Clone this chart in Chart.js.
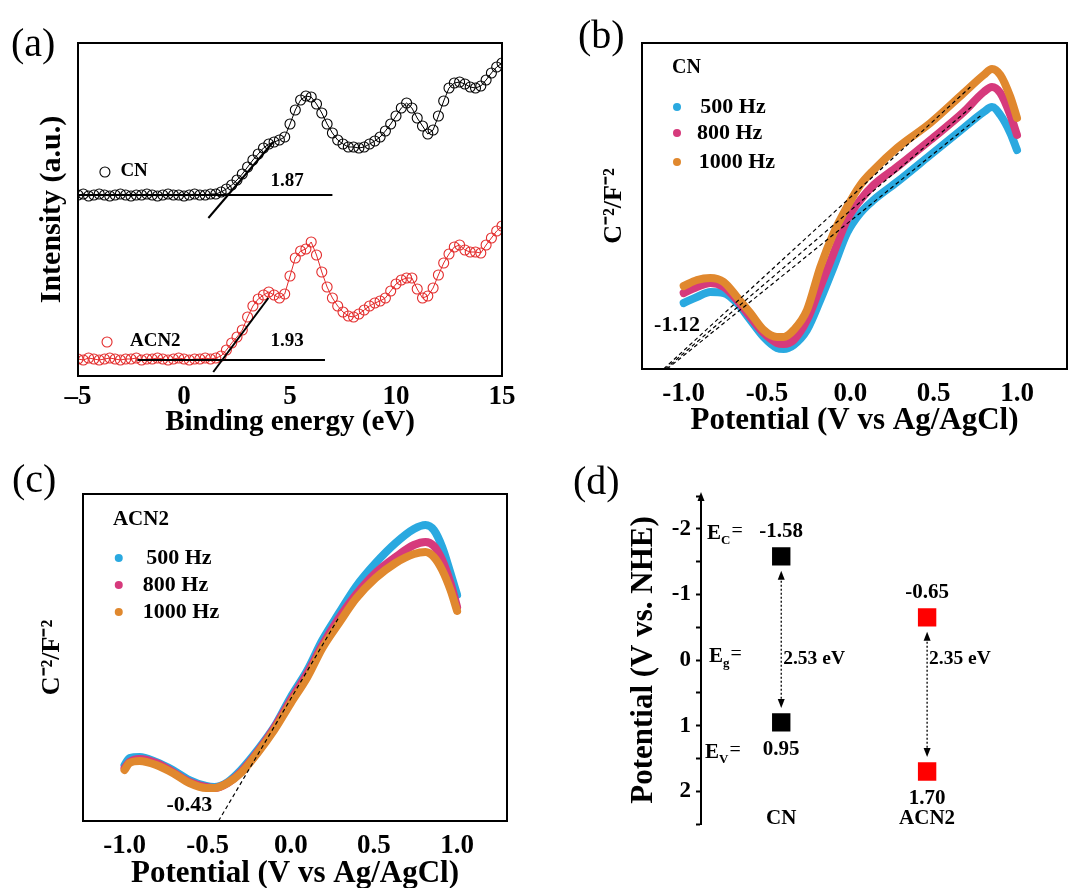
<!DOCTYPE html>
<html>
<head>
<meta charset="utf-8">
<script src="https://cdn.jsdelivr.net/npm/chart.js@4.4.0/dist/chart.umd.min.js"></script>
<style>
  body { margin: 0; background: #fff; }
  #wrap { position: relative; width: 1069px; height: 888px; overflow: hidden; background: #fff; }
  canvas { position: absolute; }
  .tag { position: absolute; font: 40px 'Liberation Serif', 'Times New Roman', serif; line-height: 1; color: #000; }
</style>
</head>
<body>
<div id="wrap">
  <canvas id="panelA" width="530" height="440" style="left:0;top:0"></canvas>
  <canvas id="panelB" width="539" height="440" style="left:530px;top:0"></canvas>
  <canvas id="panelC" width="530" height="448" style="left:0;top:440px"></canvas>
  <canvas id="panelD" width="539" height="448" style="left:530px;top:440px"></canvas>
  <div class="tag" style="left:11px;top:23px">(a)</div>
  <div class="tag" style="left:578px;top:15px">(b)</div>
  <div class="tag" style="left:12px;top:459px">(c)</div>
  <div class="tag" style="left:573px;top:461px">(d)</div>
</div>
<script>
// (a) valence band XPS
const energy = [-5, -4.75, -4.5, -4.25, -4, -3.75, -3.5, -3.25, -3, -2.75, -2.5, -2.25, -2, -1.75, -1.5, -1.25,
  -1, -0.75, -0.5, -0.25, 0, 0.25, 0.5, 0.75, 1, 1.25, 1.5, 1.75, 2, 2.25, 2.5, 2.75, 3, 3.25, 3.5, 3.75,
  4, 4.25, 4.5, 4.75, 5, 5.25, 5.5, 5.75, 6, 6.25, 6.5, 6.75, 7, 7.25, 7.5, 7.75, 8, 8.25, 8.5, 8.75,
  9, 9.25, 9.5, 9.75, 10, 10.25, 10.5, 10.75, 11, 11.25, 11.5, 11.75, 12, 12.25, 12.5, 12.75, 13, 13.25,
  13.5, 13.75, 14, 14.25, 14.5, 14.75, 15];
const cnIntensity = [181, 182, 180, 181, 182, 181, 180, 181, 182, 181, 180, 181, 181, 182, 181, 180,
  181, 182, 181, 181, 180, 181, 182, 181, 181, 182, 182, 184, 187, 191, 196, 202, 209, 216, 222, 228,
  232, 234, 236, 239, 252, 266, 276, 280, 279, 272, 263, 252, 243, 236, 232, 229, 229, 228, 229, 232,
  235, 239, 245, 252, 260, 268, 273, 268, 258, 250, 242, 246, 260, 275, 288, 293, 294, 292,
  289, 288, 290, 296, 303, 309, 313];
const acn2Intensity = [17, 16, 18, 17, 16, 17, 18, 17, 16, 17, 17, 18, 16, 17, 17, 18,
  17, 16, 17, 18, 17, 16, 17, 17, 18, 17, 18, 20, 26, 33, 39, 46, 59, 70, 77, 81,
  84, 81, 78, 82, 100, 118, 125, 127, 134, 121, 104, 89, 78, 70, 64, 60, 59, 62, 66, 70,
  73, 75, 78, 85, 92, 96, 98, 98, 87, 78, 80, 88, 101, 113, 122, 129, 131, 126,
  124, 124, 123, 131, 138, 145, 150];
const cnEdgeFit = [[1.15, 158], [4.21, 234]];
const cnBaseFit = [[-5, 181], [7.0, 181]];
const acn2EdgeFit = [[1.38, 4], [3.98, 78]];
const acn2BaseFit = [[-2.2, 16], [6.65, 16]];
const edgeValues = ['1.87', '1.93'];

// (b) Mott-Schottky, CN
const potentialB = [-1.0, -0.92, -0.84, -0.76, -0.68, -0.60, -0.52, -0.44, -0.40, -0.34, -0.26, -0.18,
  -0.10, -0.02, 0.06, 0.14, 0.28, 0.48, 0.68, 0.80, 0.85, 0.90, 0.96, 1.0];
const cn500 = [66, 72, 77, 76, 66, 49, 32, 21, 20, 24, 39, 69, 102, 136, 156, 169, 187, 214, 241, 257, 262, 254, 236, 219];
const cn800 = [76, 82, 86, 82, 69, 52, 36, 26, 25, 29, 49, 82, 116, 149, 169, 184, 202, 229, 257, 277, 282, 276, 254, 234];
const cn1000 = [83, 89, 91, 87, 72, 56, 39, 32, 32, 39, 59, 102, 136, 162, 184, 199, 221, 246, 276, 294, 300, 294, 272, 251];
const cnTangents = [[[-1.10, 0], [0.78, 253]], [[-1.11, 0], [0.74, 264]], [[-1.12, 0], [0.72, 282]]];
const cnFlatBand = '-1.12';

// (c) Mott-Schottky, ACN2
const potentialC = [-1.0, -0.97, -0.91, -0.81, -0.71, -0.61, -0.51, -0.46, -0.38, -0.30, -0.20, -0.10,
  0.0, 0.10, 0.19, 0.29, 0.39, 0.51, 0.63, 0.74, 0.81, 0.86, 0.91, 0.96, 1.0];
const acn500 = [56, 63, 64, 59, 51, 41, 35, 34, 39, 51, 71, 94, 124, 151, 181, 208, 234, 258, 278, 292, 296, 291, 274, 248, 226];
const acn800 = [53, 59, 62, 58, 49, 39, 34, 33, 38, 49, 69, 93, 121, 148, 176, 203, 226, 248, 264, 276, 279, 275, 261, 238, 214];
const acn1000 = [51, 58, 60, 56, 48, 38, 33, 33, 38, 48, 68, 91, 118, 144, 173, 198, 222, 243, 258, 267, 269, 264, 251, 231, 210];
const acnTangent = [[-0.435, 0], [0.29, 204]];
const acnFlatBand = '-0.43';

const frequencies = ['500 Hz', '800 Hz', '1000 Hz'];
const freqColors = ['#2aa9e0', '#d63a7c', '#e0882e'];

// (d) band positions
const materials = ['CN', 'ACN2'];
const conductionBand = [-1.58, -0.65];
const valenceBand = [0.95, 1.70];
const bandGap = ['2.53 eV', '2.35 eV'];
const materialColors = ['#000000', '#ff0000'];

const serif = "'Liberation Serif', 'Times New Roman', serif";
Chart.defaults.font.family = serif;
Chart.defaults.font.weight = 'bold';
Chart.defaults.color = '#000';
Chart.defaults.animation = false;
Chart.defaults.plugins.legend.display = false;
Chart.defaults.plugins.tooltip.enabled = false;

const pts = (xs, ys) => xs.map((x, i) => ({ x, y: ys[i] }));
const seg = (p) => p.map(([x, y]) => ({ x, y }));

function put(ctx, str, x, y, size, align = 'left', weight = 'bold') {
  ctx.font = `${weight} ${size}px ${serif}`;
  ctx.textAlign = align;
  ctx.textBaseline = 'middle';
  ctx.fillStyle = '#000';
  ctx.fillText(str, x, y);
  return ctx.measureText(str).width;
}

const frame = {
  id: 'frame',
  afterDraw(chart) {
    const { ctx, chartArea: a } = chart;
    ctx.save();
    ctx.strokeStyle = '#000';
    ctx.lineWidth = 2;
    ctx.strokeRect(a.left, a.top, a.right - a.left, a.bottom - a.top);
    ctx.restore();
  }
};

// ---------- (a)
function xpsSeries(ys, color) {
  return {
    data: pts(energy, ys), showLine: true, borderWidth: 1, borderColor: color,
    pointRadius: 5, pointBorderWidth: 1.1, pointBorderColor: color, pointBackgroundColor: 'rgba(0,0,0,0)'
  };
}
new Chart(document.getElementById('panelA'), {
  type: 'scatter',
  data: {
    datasets: [
      xpsSeries(cnIntensity, '#000'),
      xpsSeries(acn2Intensity, '#e32b2b'),
      ...[cnBaseFit, cnEdgeFit, acn2BaseFit, acn2EdgeFit].map((s) => ({
        data: seg(s), showLine: true, pointRadius: 0, borderColor: '#000', borderWidth: 2, order: -1
      }))
    ]
  },
  options: {
    responsive: false,
    layout: { padding: { top: 43, right: 28, left: 0, bottom: 0 }, autoPadding: false },
    scales: {
      x: {
        type: 'linear', min: -5, max: 15,
        grid: { display: false, drawTicks: false }, border: { display: false },
        ticks: { stepSize: 5, padding: 5, autoSkip: false, font: { size: 27 }, callback: (v) => (v < 0 ? '\u2013' + (-v) : String(v)) },
        title: { display: true, text: 'Binding energy (eV)', font: { size: 29 }, padding: { top: 0, bottom: 0 } },
        afterFit: (s) => { s.height = 64; }
      },
      y: {
        min: 0, max: 333,
        grid: { display: false }, border: { display: false },
        ticks: { display: false },
        title: { display: true, text: 'Intensity (a.u.)', font: { size: 30 }, padding: { top: 34, bottom: 0 } },
        afterFit: (s) => { s.width = 78; }
      }
    }
  },
  plugins: [frame, {
    id: 'xpsText',
    afterDraw(chart) {
      const { ctx, scales: { x, y } } = chart;
      ctx.save();
      ctx.lineWidth = 1.1;
      ctx.strokeStyle = '#000';
      ctx.beginPath(); ctx.arc(x.getPixelForValue(-3.73), y.getPixelForValue(204), 5, 0, 2 * Math.PI); ctx.stroke();
      put(ctx, 'CN', x.getPixelForValue(-3.0), y.getPixelForValue(205), 19);
      ctx.strokeStyle = '#e32b2b';
      ctx.beginPath(); ctx.arc(x.getPixelForValue(-3.63), y.getPixelForValue(34), 5, 0, 2 * Math.PI); ctx.stroke();
      put(ctx, 'ACN2', x.getPixelForValue(-2.55), y.getPixelForValue(35), 19);
      put(ctx, edgeValues[0], x.getPixelForValue(4.86), y.getPixelForValue(195), 19, 'center');
      put(ctx, edgeValues[1], x.getPixelForValue(4.86), y.getPixelForValue(35), 19, 'center');
      ctx.restore();
    }
  }]
});

// ---------- (b) and (c)
function potentialAxis(h, padBottom, padTicks) {
  return {
    type: 'linear', min: -1.25, max: 1.3,
    grid: { display: false, drawTicks: false }, border: { display: false },
    ticks: {
      stepSize: 0.5, padding: padTicks, autoSkip: false, includeBounds: false, font: { size: 27 },
      callback: (v) => (Math.round(v * 2) / 2).toFixed(1)
    },
    title: { display: true, text: 'Potential (V vs Ag/AgCl)', font: { size: 31 }, padding: { top: 0, bottom: padBottom } },
    afterFit: (s) => { s.height = h; }
  };
}
function capAxis(max, w, padTop) {
  return {
    min: 0, max,
    grid: { display: false }, border: { display: false },
    ticks: { display: false },
    title: { display: true, text: 'C\u207B\u00B2/F\u207B\u00B2', font: { size: 26 }, padding: { top: padTop, bottom: 0 } },
    afterFit: (s) => { s.width = w; }
  };
}
function curve(xs, ys, i) {
  return {
    data: pts(xs, ys), showLine: true, pointRadius: 0, borderWidth: 8,
    borderColor: freqColors[i], borderCapStyle: 'round', borderJoinStyle: 'round',
    cubicInterpolationMode: 'monotone', order: 3 - i
  };
}
function tangent(s) {
  return { data: seg(s), showLine: true, pointRadius: 0, borderWidth: 1.2, borderColor: '#000', borderDash: [4, 3], order: 0 };
}
function msLegend(sample, pos, flat) {
  return {
    id: 'msLegend',
    afterDraw(chart) {
      const { ctx, scales: { x, y } } = chart;
      ctx.save();
      put(ctx, sample, x.getPixelForValue(pos.nameX), y.getPixelForValue(pos.nameY), pos.nameSize, 'left');
      frequencies.forEach((f, i) => {
        const yy = y.getPixelForValue(pos.rowY[i]);
        ctx.fillStyle = freqColors[i];
        ctx.beginPath(); ctx.arc(x.getPixelForValue(pos.dotX), yy, 4, 0, 2 * Math.PI); ctx.fill();
        put(ctx, f, x.getPixelForValue(pos.textX[i]), yy, 22, 'left');
      });
      put(ctx, flat, x.getPixelForValue(pos.flatX), y.getPixelForValue(pos.flatY), 22, 'center');
      ctx.restore();
    }
  };
}

new Chart(document.getElementById('panelB'), {
  type: 'scatter',
  data: { datasets: [curve(potentialB, cn500, 0), curve(potentialB, cn800, 1), curve(potentialB, cn1000, 2), ...cnTangents.map(tangent)] },
  options: {
    responsive: false,
    layout: { padding: { top: 43, right: 2, left: 0, bottom: 0 }, autoPadding: false },
    scales: { x: potentialAxis(71, 0, 9), y: capAxis(326, 112, 69) }
  },
  plugins: [frame, msLegend('CN', {
    nameX: -1.07, nameY: 301, nameSize: 20, dotX: -1.04, rowY: [262, 236, 207], textX: [-0.90, -0.92, -0.91], flatX: -1.04, flatY: 44
  }, cnFlatBand)]
});

new Chart(document.getElementById('panelC'), {
  type: 'scatter',
  data: { datasets: [curve(potentialC, acn500, 0), curve(potentialC, acn800, 1), curve(potentialC, acn1000, 2), tangent(acnTangent)] },
  options: {
    responsive: false,
    layout: { padding: { top: 54, right: 23, left: 0, bottom: 0 }, autoPadding: false },
    scales: { x: potentialAxis(67, -5, 9), y: capAxis(327, 83, 37) }
  },
  plugins: [frame, msLegend('ACN2', {
    nameX: -1.07, nameY: 301, nameSize: 21, dotX: -1.035, rowY: [263, 236, 209], textX: [-0.87, -0.89, -0.89], flatX: -0.61, flatY: 16
  }, acnFlatBand)]
});

// ---------- (d)
function arrowHead(ctx, x, y, dir) {
  ctx.beginPath();
  ctx.moveTo(x, y);
  ctx.lineTo(x - 3.5, y - dir * 9);
  ctx.lineTo(x + 3.5, y - dir * 9);
  ctx.closePath();
  ctx.fill();
}
function subLabel(ctx, sub, x, y) {
  let w = put(ctx, 'E', x, y, 21);
  w += put(ctx, sub, x + w, y + 7, 13);
  put(ctx, '=', x + w + 1, y - 2, 20, 'left', 'normal');
}

new Chart(document.getElementById('panelD'), {
  type: 'scatter',
  data: {
    datasets: materials.map((m, i) => ({
      data: [{ x: i + 1, y: conductionBand[i] }, { x: i + 1, y: valenceBand[i] }],
      pointStyle: 'rect', pointRadius: 13, borderWidth: 0,
      backgroundColor: materialColors[i], borderColor: materialColors[i]
    }))
  },
  options: {
    responsive: false,
    layout: { padding: { top: 56, right: 10.6, left: 0, bottom: 64 }, autoPadding: false },
    scales: {
      x: { type: 'linear', min: 0.45, max: 2.9, display: false },
      y: {
        min: -2.5, max: 2.5, reverse: true,
        grid: { drawOnChartArea: false, drawTicks: true, tickLength: 5, tickWidth: 2, tickColor: '#000' },
        border: { display: true, width: 2, color: '#000' },
        ticks: { stepSize: 0.5, padding: 5, autoSkip: false, font: { size: 23 }, callback: (v) => (Number.isInteger(v) && Math.abs(v) < 2.5 ? String(v) : '') },
        title: { display: true, text: 'Potential (V vs. NHE)', font: { size: 31 }, padding: { top: 95, bottom: 0 } },
        afterFit: (s) => { s.width = 171; }
      }
    }
  },
  plugins: [{
    id: 'bandText',
    afterDraw(chart) {
      const { ctx, chartArea: a, scales: { x, y } } = chart;
      ctx.save();
      ctx.fillStyle = '#000';
      arrowHead(ctx, a.left, a.top - 4, -1);

      materials.forEach((m, i) => {
        const px = x.getPixelForValue(i + 1);
        ctx.strokeStyle = '#000';
        ctx.fillStyle = '#000';
        ctx.lineWidth = 1.3;
        ctx.setLineDash([2, 2]);
        const y0 = y.getPixelForValue(conductionBand[i] + 0.22);
        const y1 = y.getPixelForValue(valenceBand[i] - 0.22);
        ctx.beginPath(); ctx.moveTo(px, y0 + 6); ctx.lineTo(px, y1 - 6); ctx.stroke();
        ctx.setLineDash([]);
        arrowHead(ctx, px, y0, -1);
        arrowHead(ctx, px, y1, 1);
        put(ctx, conductionBand[i].toFixed(2), px, y.getPixelForValue(conductionBand[i] - 0.38), 21, 'center');
        put(ctx, valenceBand[i].toFixed(2), px, y.getPixelForValue(valenceBand[i] + 0.41), 21, 'center');
        put(ctx, bandGap[i], px + 2, y.getPixelForValue(-0.02), 19.5, 'left');
        put(ctx, m, px, y.getPixelForValue(2.42), 21, 'center');
      });

      subLabel(ctx, 'C', a.left + 6, y.getPixelForValue(-1.92));
      subLabel(ctx, 'g', a.left + 8, y.getPixelForValue(-0.05));
      subLabel(ctx, 'V', a.left + 4, y.getPixelForValue(1.41));
      ctx.restore();
    }
  }]
});
</script>
</body>
</html>
